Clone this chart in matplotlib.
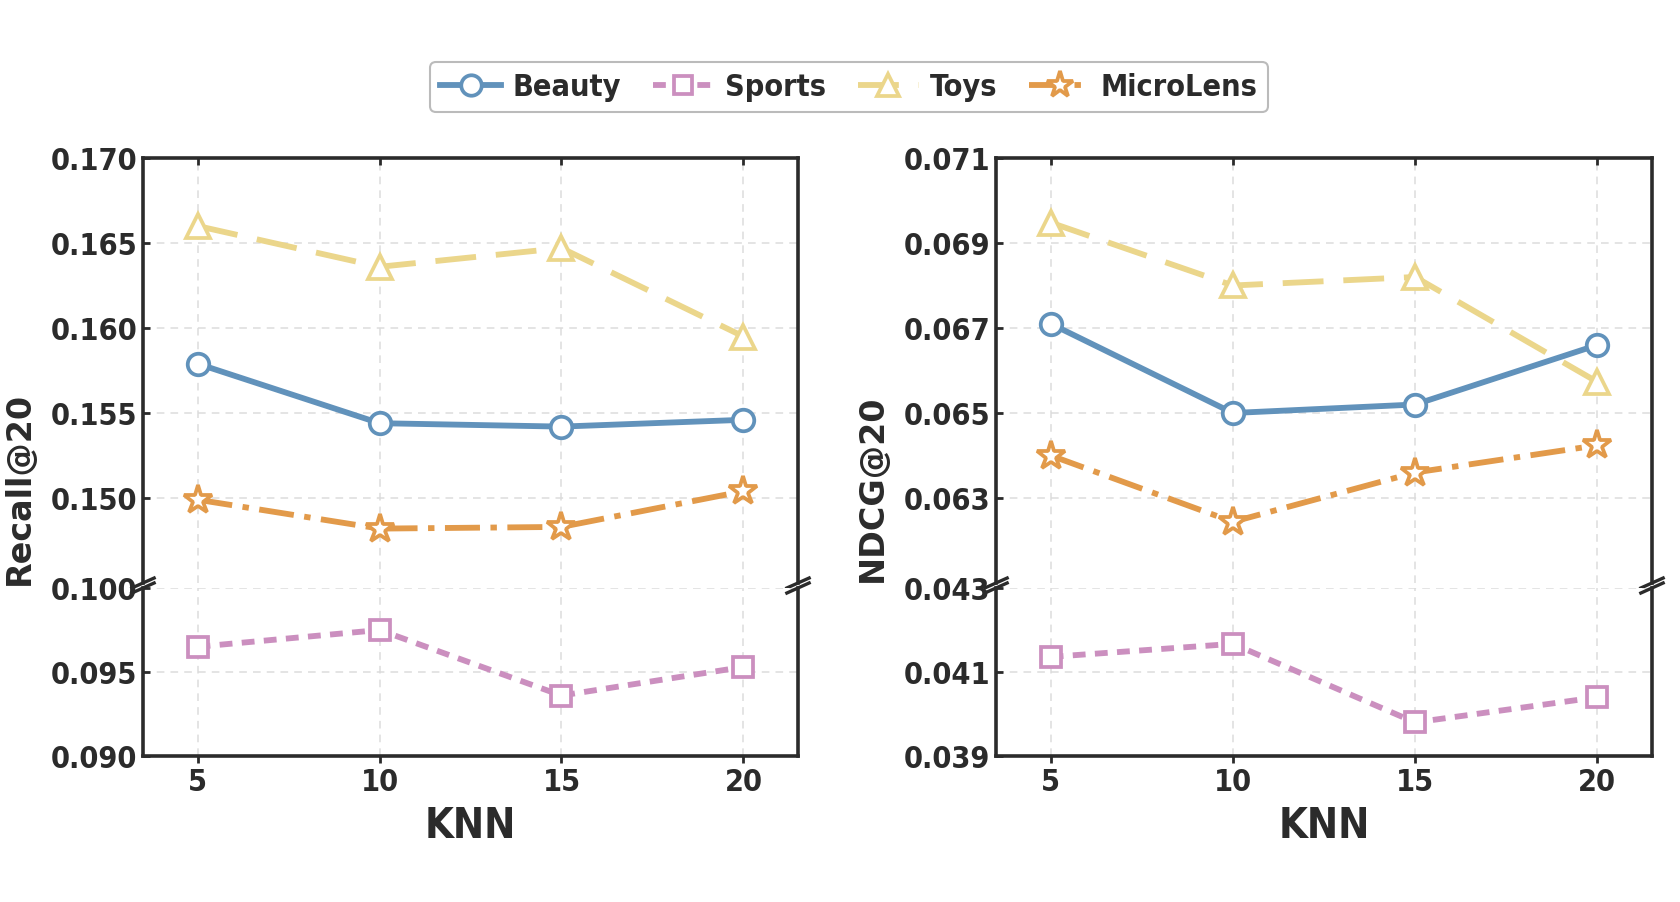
import matplotlib
matplotlib.use("Agg")
import matplotlib.pyplot as plt
from matplotlib.lines import Line2D

knn = [5, 10, 15, 20]
series_names = ["Beauty", "Sports", "Toys", "MicroLens"]

recall_beauty = [0.1579, 0.1544, 0.1542, 0.1546]
recall_sports = [0.0965, 0.0975, 0.0936, 0.0953]
recall_toys = [0.1660, 0.1636, 0.1647, 0.1595]
recall_micro = [0.1499, 0.1482, 0.1483, 0.1504]

ndcg_beauty = [0.0671, 0.0650, 0.0652, 0.0666]
ndcg_sports = [0.04136, 0.04167, 0.03980, 0.04040]
ndcg_toys = [0.06948, 0.0680, 0.0682, 0.06573]
ndcg_micro = [0.0640, 0.06244, 0.0636, 0.06424]

recall_top_ticks = [0.150, 0.155, 0.160, 0.165, 0.170]
recall_bot_ticks = [0.090, 0.095, 0.100]
ndcg_top_ticks = [0.063, 0.065, 0.067, 0.069, 0.071]
ndcg_bot_ticks = [0.039, 0.041, 0.043]

colors = {"Beauty": "#6192bb", "Sports": "#cb8fbf", "Toys": "#ebd68b", "MicroLens": "#e29a4a"}
markers = {"Beauty": "o", "Sports": "s", "Toys": "^", "MicroLens": "*"}
lstyles = {"Beauty": "-", "Sports": (0, (2.2, 1.6)), "Toys": (0, (7.0, 3.4)), "MicroLens": (0, (6.0, 1.8, 1.1, 1.8))}
msizes = {"Beauty": 15.5, "Sports": 14, "Toys": 17, "MicroLens": 21}

SPINE = "#2b2b2b"
TICKFONT = dict(family="DejaVu Sans", weight="bold", stretch="condensed", size=22)
LW = 4.2
MEW = 2.7

fig = plt.figure(figsize=(16.8, 9.03), dpi=100)

W, H = 1680, 903
def frac_box(x0, x1, ytop, ybot):
    return [x0 / W, 1 - ybot / H, (x1 - x0) / W, (ybot - ytop) / H]

panels = [
    dict(x0=143, x1=798, top=(recall_beauty, recall_toys, recall_micro), bot=recall_sports,
         tylim=(0.145, 0.170), bylim=(0.090, 0.100), tt=recall_top_ticks, bt=recall_bot_ticks,
         fmt="{:.3f}", ylabel="Recall@20", ylx=19),
    dict(x0=996, x1=1652, top=(ndcg_beauty, ndcg_toys, ndcg_micro), bot=ndcg_sports,
         tylim=(0.061, 0.071), bylim=(0.039, 0.043), tt=ndcg_top_ticks, bt=ndcg_bot_ticks,
         fmt="{:.3f}", ylabel="NDCG@20", ylx=872),
]

def style_axis(ax):
    ax.grid(True, linestyle=(0, (5, 4)), color="#dcdcdc", linewidth=1.1)
    ax.set_axisbelow(True)
    for s in ax.spines.values():
        s.set_color(SPINE)
        s.set_linewidth(2.6)
    ax.tick_params(axis="both", colors=SPINE, width=2.0, length=5)
    ax.tick_params(axis="y", direction="in", pad=4)
    ax.set_xlim(3.5, 21.5)
    ax.set_xticks(knn)

for p in panels:
    axt = fig.add_axes(frac_box(p["x0"], p["x1"], 159, 584))
    axb = fig.add_axes(frac_box(p["x0"], p["x1"], 589, 757))
    for ax in (axt, axb):
        style_axis(ax)
    axt.spines["bottom"].set_visible(False)
    axb.spines["top"].set_visible(False)
    axt.tick_params(axis="x", which="both", bottom=False, labelbottom=False, top=True, direction="in")
    axb.tick_params(axis="x", direction="out", pad=3)

    for name, vals in zip(["Beauty", "Toys", "MicroLens"], p["top"]):
        axt.plot(knn, vals, color=colors[name], linestyle=lstyles[name], linewidth=LW,
                 marker=markers[name], markersize=msizes[name], markerfacecolor="white",
                 markeredgecolor=colors[name], markeredgewidth=MEW, clip_on=False, zorder=3)
    axb.plot(knn, p["bot"], color=colors["Sports"], linestyle=lstyles["Sports"], linewidth=LW,
             marker=markers["Sports"], markersize=msizes["Sports"], markerfacecolor="white",
             markeredgecolor=colors["Sports"], markeredgewidth=MEW, clip_on=False, zorder=3)

    axt.set_ylim(*p["tylim"])
    axb.set_ylim(*p["bylim"])
    axt.set_yticks(p["tt"])
    axb.set_yticks(p["bt"])
    axt.set_yticklabels([p["fmt"].format(v) for v in p["tt"]], fontdict=TICKFONT)
    axb.set_yticklabels([p["fmt"].format(v) for v in p["bt"]], fontdict=TICKFONT)
    axb.set_xticklabels([str(k) for k in knn], fontdict=TICKFONT)
    axb.set_xlabel("KNN", fontsize=30, fontweight="bold", stretch="condensed", color=SPINE, labelpad=6)

    # break marks
    dx, dy = 0.017, 0.013
    for xpos in (0, 1):
        axt.plot([xpos - dx, xpos + dx], [-dy * 0.9, dy * 0.9], transform=axt.transAxes,
                 color=SPINE, linewidth=2.4, clip_on=False, zorder=5)
        axb.plot([xpos - dx, xpos + dx], [1 - dy * 2.3, 1 + dy * 2.3], transform=axb.transAxes,
                 color=SPINE, linewidth=2.4, clip_on=False, zorder=5)

    fig.text(p["ylx"] / W, 1 - 488 / H, p["ylabel"], rotation=90, ha="center", va="center",
             fontsize=24, fontweight="bold", color=SPINE)

handles = [Line2D([0], [0], color=colors[n], linestyle=lstyles[n], linewidth=LW, marker=markers[n],
                  markersize=msizes[n] * 0.95, markerfacecolor="white", markeredgecolor=colors[n],
                  markeredgewidth=MEW) for n in series_names]
leg = fig.legend(handles, series_names, loc="center", bbox_to_anchor=(849 / W, 1 - 88 / H), ncol=4,
                 frameon=True, fancybox=True, edgecolor="#aaaaaa", handlelength=2.0, handletextpad=0.35,
                 columnspacing=1.05, borderpad=0.35,
                 prop=dict(family="DejaVu Sans", weight="bold", stretch="condensed", size=22))
for t in leg.get_texts():
    t.set_color(SPINE)
leg.get_frame().set_linewidth(1.5)

fig.savefig("out.png", dpi=100)
